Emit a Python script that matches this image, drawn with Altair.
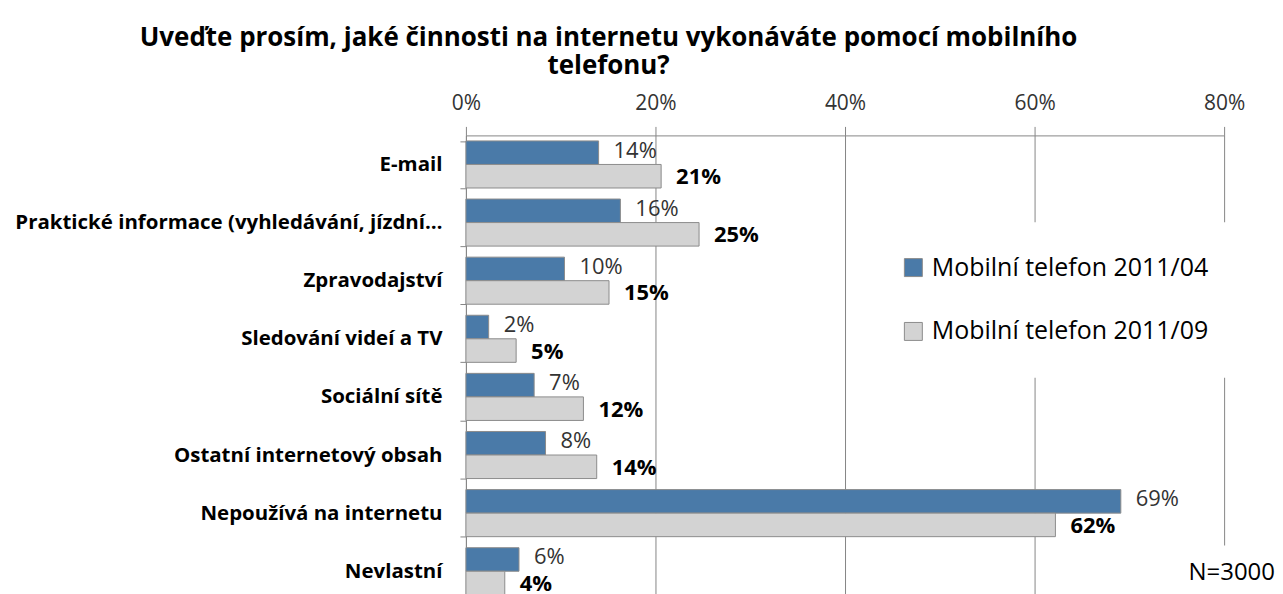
import altair as alt
import pandas as pd

categories = [
    "E-mail",
    "Praktické informace (vyhledávání, jízdní…",
    "Zpravodajství",
    "Sledování videí a TV",
    "Sociální sítě",
    "Ostatní internetový obsah",
    "Nepoužívá na internetu",
    "Nevlastní",
]
series = ["Mobilní telefon 2011/04", "Mobilní telefon 2011/09"]
values_2011_04 = [0.140, 0.163, 0.104, 0.024, 0.072, 0.084, 0.691, 0.056]
values_2011_09 = [0.206, 0.246, 0.151, 0.053, 0.124, 0.138, 0.622, 0.041]
colors = ["#4A7AA8", "#D3D3D3"]
title_lines = ["Uveďte prosím, jaké činnosti na internetu vykonáváte pomocí mobilního", "telefonu?"]
note = "N=3000"

df = pd.DataFrame({
    "kategorie": categories * 2,
    "serie": [series[0]] * len(categories) + [series[1]] * len(categories),
    "hodnota": values_2011_04 + values_2011_09,
})
annot = pd.DataFrame({"t": [note]})

FONT = "Open Sans"
GRID = "#868686"

y_enc = alt.Y(
    "kategorie:N",
    sort=categories,
    scale=alt.Scale(paddingInner=0.19, paddingOuter=0.095),
    axis=alt.Axis(
        title=None, labelFont=FONT, labelFontWeight="bold", labelFontSize=20.5,
        labelColor="#000000", domainColor=GRID, tickColor=GRID, tickSize=6,
        labelPadding=18, tickBand="extent", labelLimit=0,
    ),
)
yoff = alt.YOffset("serie:N", sort=series)
x_enc = alt.X(
    "hodnota:Q",
    scale=alt.Scale(domain=[0, 0.8], nice=False),
    axis=alt.Axis(
        title=None, orient="top", format=".0%", values=[0, 0.2, 0.4, 0.6, 0.8],
        grid=True, gridColor=GRID, domainColor=GRID, tickColor=GRID, tickSize=9,
        labelFont=FONT, labelFontSize=21, labelColor="#333333", labelPadding=13,
        labelFlush=False,
    ),
)

base = alt.Chart(df)

bars = base.mark_bar(stroke="#8C8C8C", strokeWidth=1).encode(
    y=y_enc,
    yOffset=yoff,
    x=x_enc,
    color=alt.Color(
        "serie:N",
        sort=series,
        scale=alt.Scale(domain=series, range=colors),
        legend=alt.Legend(
            title=None, orient="none", legendX=403, legendY=87, fillColor="white",
            padding=33, symbolType="square", symbolSize=324, symbolStrokeColor="#8C8C8C",
            symbolStrokeWidth=1, symbolOpacity=1, labelFont=FONT, labelFontSize=25,
            labelColor="#000000", rowPadding=38, labelOffset=6, labelLimit=0,
        ),
    ),
)

lab1 = base.transform_filter(alt.datum.serie == series[0]).mark_text(
    align="left", baseline="middle", dx=15, dy=-2, font=FONT, fontSize=22, color="#333333"
).encode(y=y_enc, yOffset=yoff, x=x_enc, text=alt.Text("hodnota:Q", format=".0%"))

lab2 = base.transform_filter(alt.datum.serie == series[1]).mark_text(
    align="left", baseline="middle", dx=15, dy=1, font=FONT, fontSize=22,
    fontWeight="bold", color="#000000"
).encode(y=y_enc, yOffset=yoff, x=x_enc, text=alt.Text("hodnota:Q", format=".0%"))

note_bg = alt.Chart(annot).mark_rect(color="white").encode(
    x=alt.value(713), x2=alt.value(830), y=alt.value(411), y2=alt.value(470)
)
note_txt = alt.Chart(annot).mark_text(
    align="right", baseline="middle", font=FONT, fontSize=24, color="#000000"
).encode(x=alt.value(811), y=alt.value(439), text="t:N")

chart = alt.layer(bars, lab1, lab2, note_bg, note_txt).properties(
    width=760,
    height=466,
    title=alt.TitleParams(
        text=title_lines, anchor="start", align="center", frame="group", dx=143,
        font=FONT, fontSize=26, fontWeight="bold", color="#000000", offset=14,
        lineHeight=28,
    ),
    padding={"left": 459, "top": 127, "right": 51, "bottom": 0},
    autosize=alt.AutoSizeParams(type="none"),
).configure_view(stroke=None)

chart.save("out.html", embed_options={"renderer": "svg", "actions": False})
